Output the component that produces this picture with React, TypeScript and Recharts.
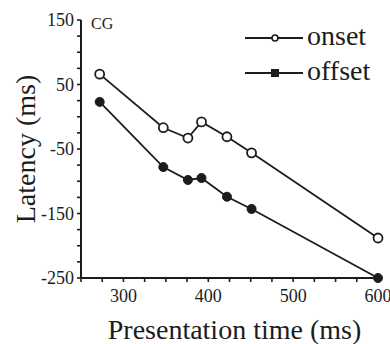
import { LineChart, Line, XAxis, YAxis } from 'recharts';

const presentationTimes = [272, 347, 376, 392, 422, 451, 600];
const onsetLatency = [66, -17, -33, -8, -31, -56, -188];
const offsetLatency = [23, -78, -98, -95, -124, -143, -250];

const xTicks = [250, 275, 300, 325, 350, 375, 400, 425, 450, 475, 500, 525, 550, 575, 600];
const xTickLabels = [300, 400, 500, 600];
const yTicks = [-250, -225, -200, -175, -150, -125, -100, -75, -50, -25, 0, 25, 50, 75, 100, 125, 150];
const yTickLabels = [150, 50, -50, -150, -250];
const seriesNames = ['onset', 'offset'];

const data = presentationTimes.map((t, i) => ({
  t,
  onset: onsetLatency[i],
  offset: offsetLatency[i],
}));

const ink = '#1c1c1c';
const serif = '"Liberation Serif", "Times New Roman", serif';

function LegendBox() {
  return (
    <div style={{ position: 'absolute', left: 245, top: 20, fontFamily: serif, fontSize: 28, color: ink, lineHeight: 1 }}>
      {seriesNames.map((name) => (
        <div key={name} style={{ display: 'flex', alignItems: 'center', height: 35 }}>
          <svg width={62} height={20} style={{ display: 'block' }}>
            <line x1={0} y1={10} x2={58} y2={10} stroke={ink} strokeWidth={2} />
            {name === 'onset' ? (
              <circle cx={30} cy={10} r={3} fill="#fff" stroke={ink} strokeWidth={1.6} />
            ) : (
              <rect x={26} y={6} width={8} height={8} fill={ink} />
            )}
          </svg>
          <span style={{ marginTop: -4 }}>{name}</span>
        </div>
      ))}
    </div>
  );
}

export default function App() {
  return (
    <div style={{ position: 'absolute', left: 0, top: 0, width: 390, height: 344, background: '#fff' }}>
      <LineChart width={390} height={344} data={data} margin={{ top: 20, right: 12, left: 0, bottom: 0 }}>
        <XAxis
          dataKey="t"
          type="number"
          domain={[250, 600]}
          ticks={xTicks}
          interval={0}
          tickFormatter={(v: number) => (xTickLabels.includes(v) ? String(v) : '')}
          height={66}
          stroke={ink}
          axisLine={{ stroke: ink, strokeWidth: 2 }}
          tickLine={{ stroke: ink, strokeWidth: 1.6 }}
          tickSize={4}
          tickMargin={7}
          tick={{ fill: ink, fontSize: 18, fontFamily: serif }}
          label={{ value: 'Presentation time (ms)', position: 'insideBottom', offset: 5, dx: 5, fill: ink, fontSize: 28, fontFamily: serif }}
        />
        <YAxis
          type="number"
          domain={[-250, 150]}
          ticks={yTicks}
          interval={0}
          tickFormatter={(v: number) => (yTickLabels.includes(v) ? String(v) : '')}
          width={81}
          stroke={ink}
          axisLine={{ stroke: ink, strokeWidth: 2 }}
          tickLine={{ stroke: ink, strokeWidth: 1.6 }}
          tickSize={4}
          tickMargin={3}
          tick={{ fill: ink, fontSize: 18, fontFamily: serif }}
          label={{ value: 'Latency (ms)', angle: -90, position: 'insideLeft', offset: 25, style: { textAnchor: 'middle' }, fill: ink, fontSize: 28, fontFamily: serif }}
        />
        <Line
          dataKey="onset"
          stroke={ink}
          strokeWidth={1.8}
          dot={{ r: 4.5, fill: '#fff', stroke: ink, strokeWidth: 1.8 }}
          isAnimationActive={false}
        />
        <Line
          dataKey="offset"
          stroke={ink}
          strokeWidth={1.8}
          dot={{ r: 4.5, fill: ink, stroke: ink, strokeWidth: 1 }}
          isAnimationActive={false}
        />
      </LineChart>
      <LegendBox />
      <div style={{ position: 'absolute', left: 91, top: 15, fontFamily: serif, fontSize: 16, color: ink }}>CG</div>
    </div>
  );
}
